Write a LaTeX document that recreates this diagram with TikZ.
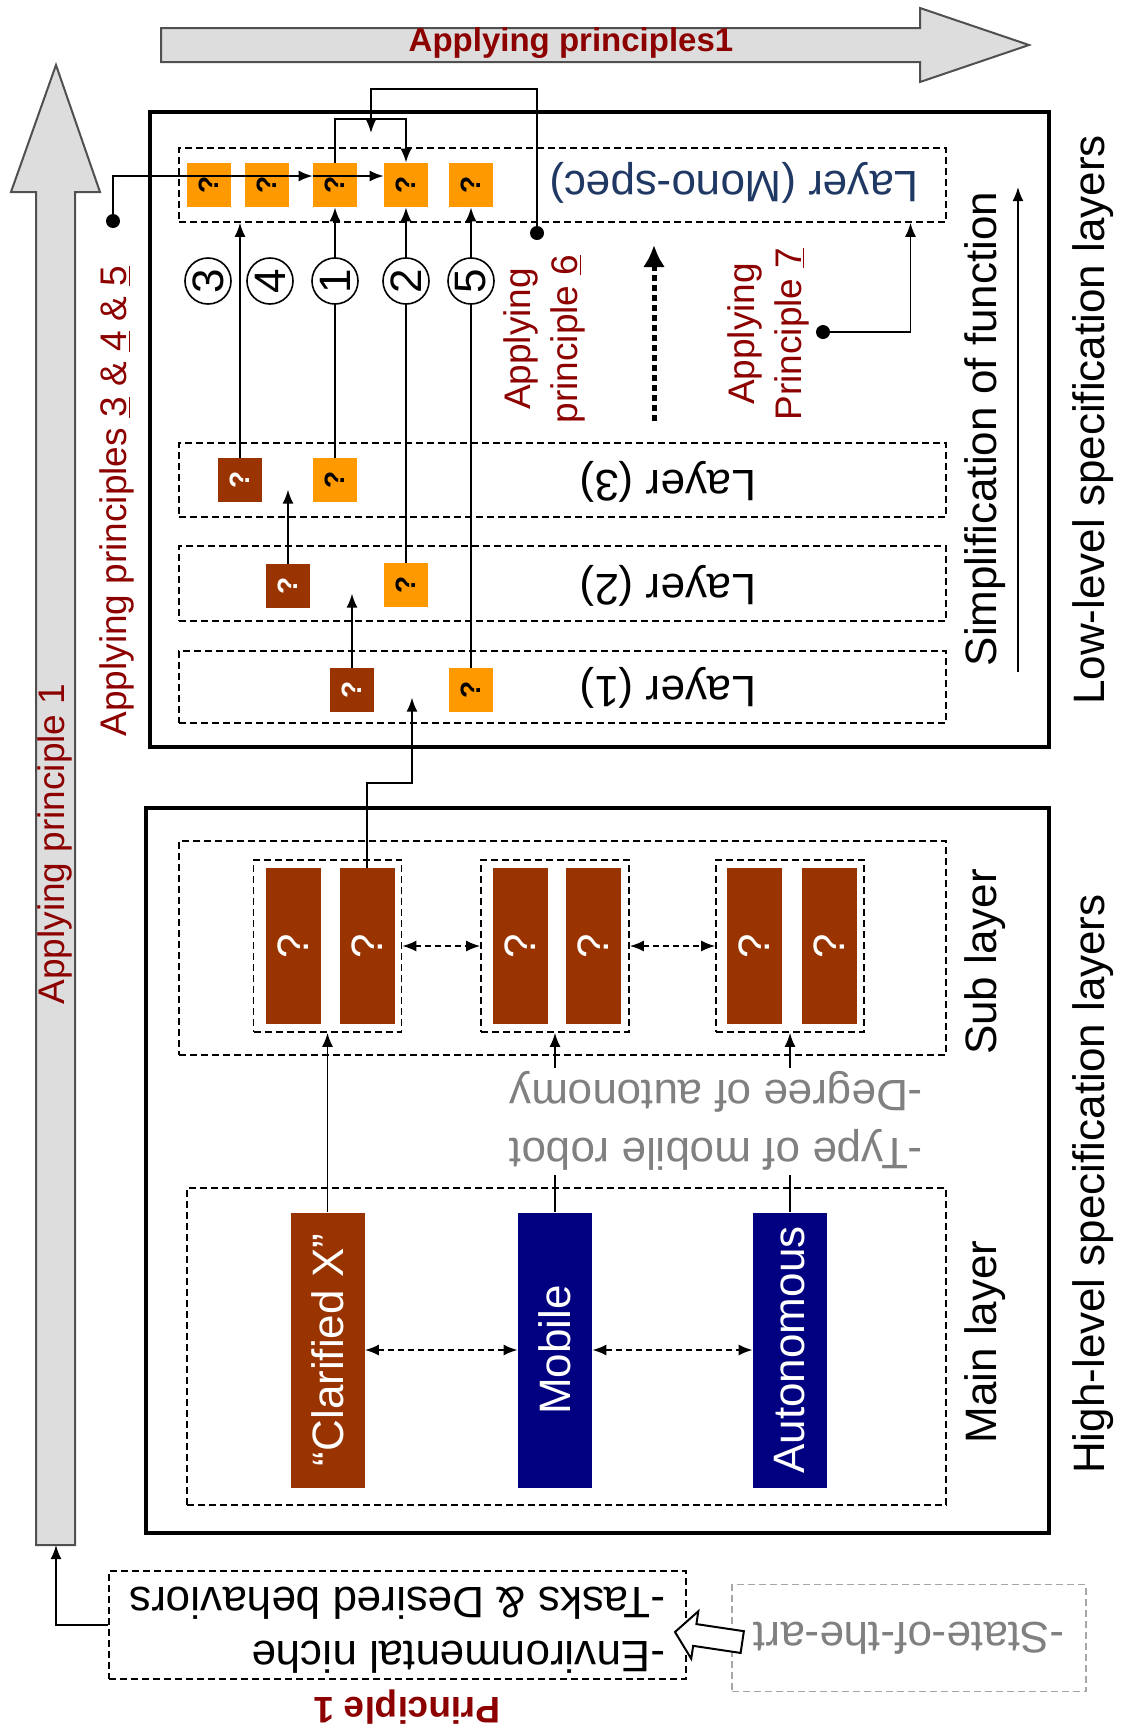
\documentclass[tikz,border=0pt]{standalone}
\usepackage{fontspec}
\setmainfont{Liberation Sans}
\usepackage{graphicx}
\usepackage{tikz}
\usetikzlibrary{arrows.meta}
\definecolor{mybrown}{RGB}{153,51,0}
\definecolor{myorange}{RGB}{255,153,0}
\definecolor{mynavy}{RGB}{0,0,128}
\definecolor{myred}{RGB}{140,0,0}
\definecolor{myblue}{RGB}{31,56,100}
\definecolor{mygray}{RGB}{128,128,128}
\definecolor{arrfill}{RGB}{221,221,221}
\definecolor{arrline}{RGB}{80,80,80}
\newcommand{\fsbig}{\fontsize{22}{29}\selectfont}
\newcommand{\fsred}{\fontsize{18.5}{23.5}\selectfont}
\newcommand{\qm}{\rotatebox{90}{?}}
\tikzset{
  specbox/.style={draw, line width=2pt, inner sep=0pt},
  dashbox/.style={draw, dash pattern=on 3.5pt off 2pt, line width=0.8pt, inner sep=0pt},
  qorange/.style={fill=myorange, minimum size=22pt, inner sep=0pt,
    font=\fontsize{14}{14}\selectfont\bfseries},
  qbrown/.style={qorange, fill=mybrown, text=white},
  bar/.style={fill=mybrown, text=white, minimum width=27.5pt, minimum height=78pt,
    inner sep=0pt, font=\fsbig},
  mainbar/.style={fill=#1, text=white, minimum width=37pt, minimum height=137.5pt,
    inner sep=0pt, font=\fsbig},
  num/.style={circle, draw, fill=white, minimum size=23pt, inner sep=0pt,
    line width=0.8pt, font=\fsbig, rotate=90},
  dot/.style={circle, fill, minimum size=7pt, inner sep=0pt},
  conn/.style={line width=0.9pt},
  arr/.style={conn, -{Latex[length=7pt,width=5.5pt]}},
  dblarr/.style={conn, dash pattern=on 3pt off 2pt,
    {Latex[length=7pt,width=5.5pt]}-{Latex[length=7pt,width=5.5pt]}},
  redlabel/.style={text=myred, font=\fsred, rotate=90, align=center},
  biglabel/.style={font=\fsbig, rotate=90},
  flipped/.style={font=\fsbig, rotate=180},
  bigarrow/.style={fill=arrfill, draw=arrline, line width=1pt}
}
\begin{document}
\begin{tikzpicture}[x=0.5pt, y=-0.5pt]
  \useasboundingbox (0,0) rectangle (1120,1736);

  % Big arrows
  \draw[bigarrow] (36,1545) -- (36,192) -- (11,192) -- (56,65) -- (100,192) -- (75,192) -- (75,1545) -- cycle;
  \coordinate (p1tail) at (56,1545);
  \node[redlabel] (lp1) at (55,844) {Applying principle 1};
  \draw[bigarrow] (161,28) -- (920,28) -- (920,8) -- (1029,45) -- (920,82) -- (920,62) -- (161,62) -- cycle;
  \node[text=myred, font=\fontsize{16.5}{18}\selectfont\bfseries] (lp1top) at (571,43) {Applying principles1};

  % Low-level layers
  \node[specbox, minimum width=449.5pt, minimum height=317.5pt] (lowbox) at (599.5,429.5) {};
  \node[dashbox, minimum width=383.5pt, minimum height=37pt] (monobox) at (562.5,185) {};
  \node[dashbox, minimum width=383.5pt, minimum height=37pt] (lay3) at (562.5,480) {};
  \node[dashbox, minimum width=383.5pt, minimum height=37.5pt] (lay2) at (562.5,583.5) {};
  \node[dashbox, minimum width=383.5pt, minimum height=36pt] (lay1) at (562.5,687) {};
  \node[flipped, text=myblue] (tmono) at (734,183) {Layer (Mono-spec)};
  \node[flipped] (t3) at (668,482) {Layer (3)};
  \node[flipped] (t2) at (668,586) {Layer (2)};
  \node[flipped] (t1) at (668,688) {Layer (1)};

  % Functions
  \node[qorange] (m1) at (209,185) {\qm};
  \node[qorange] (m2) at (267,185) {\qm};
  \node[qorange] (m3) at (335,185) {\qm};
  \node[qorange] (m4) at (406,185) {\qm};
  \node[qorange] (m5) at (471,185) {\qm};
  \node[qbrown] (b3) at (240,480) {\qm};
  \node[qorange] (o3) at (335,480) {\qm};
  \node[qbrown] (b2) at (288,586) {\qm};
  \node[qorange] (o2) at (406,585) {\qm};
  \node[qbrown] (b1) at (352,690) {\qm};
  \node[qorange] (o1) at (471,690) {\qm};

  % Connections between layers
  \draw[arr] (b3.north) -- (b3.north |- monobox.south);
  \draw[arr] (o3.north) -- (m3.south);
  \draw[arr] (o2.north) -- (m4.south);
  \draw[arr] (o1.north) -- (m5.south);
  \draw[arr] (b2.north) -- ++(0,-74);
  \draw[arr] (b1.north) -- ++(0,-74);

  \node[num] (c3) at (208,281) {3};
  \node[num] (c4) at (270,281) {4};
  \node[num] (c1) at (335,281) {1};
  \node[num] (c2) at (406,281) {2};
  \node[num] (c5) at (471,281) {5};

  % Principles 3-7
  \node[dot] (d345) at (113,221) {};
  \draw[arr] (d345) |- ([yshift=4.5pt]m3.west);
  \draw[arr] ([yshift=4.5pt]m3.west) -- ([yshift=4.5pt]m4.west);
  \draw[arr] (m3.north) -- ++(0,-44) -| (m4.north);
  \node[dot] (d6) at (537,233) {};
  \coordinate (p6end) at (371,133);
  \draw[arr] (d6) -- ++(0,-144) -| (p6end);
  \node[dot] (d7) at (823,332) {};
  \draw[arr] (d7) -| ([xshift=174pt]monobox.south);
  \node[redlabel] (l345) at (117,501) {Applying principles \underline{3} \& \underline{4} \& \underline{5}};
  \node[redlabel] (l6) at (544,339) {Applying\\principle \underline{6}};
  \node[redlabel] (l7) at (768,334) {Applying\\Principle \underline{7}};
  \coordinate (dotA) at (654,421);
  \coordinate (dotB) at (654,245);
  \draw[line width=2.5pt, dash pattern=on 3pt off 2pt, -{Latex[length=11pt,width=11pt]}] (dotA) -- (dotB);

  \node[biglabel] (simp) at (985,429) {Simplification of function};
  \coordinate (sA) at (1018,672);
  \coordinate (sB) at (1018,187);
  \draw[arr] (sA) -- (sB);
  \node[biglabel] (lowlbl) at (1093,420) {Low-level specification layers};

  % High-level layers
  \node[specbox, minimum width=451.5pt, minimum height=362.5pt] (highbox) at (597.5,1170.5) {};
  \node[dashbox, minimum width=383.5pt, minimum height=107pt] (subbox) at (562.5,948) {};
  \node[dashbox, minimum width=379.5pt, minimum height=158.5pt] (mainbox) at (566.5,1346.5) {};
  \node[dashbox, minimum width=74pt, minimum height=86pt] (g1) at (327.5,946) {};
  \node[dashbox, minimum width=74pt, minimum height=86pt] (g2) at (555,946) {};
  \node[dashbox, minimum width=74pt, minimum height=86pt] (g3) at (790,946) {};
  \node[bar] (s11) at (293.5,946) {\qm};
  \node[bar] (s12) at (367,946) {\qm};
  \node[bar] (s21) at (520,946) {\qm};
  \node[bar] (s22) at (593.5,946) {\qm};
  \node[bar] (s31) at (754.5,946) {\qm};
  \node[bar] (s32) at (829,946) {\qm};
  \draw[dblarr] (g1.east) -- (g2.west);
  \draw[dblarr] (g2.east) -- (g3.west);
  \draw[arr] (s12.north) -- ++(0,-85) -- ++(45,0) -- ++(0,-85);

  \node[mainbar=mybrown] (clar) at (327.5,1350) {\rotatebox{90}{“Clarified X”}};
  \node[mainbar=mynavy] (mob) at (555,1350) {\rotatebox{90}{Mobile}};
  \node[mainbar=mynavy] (auto) at (790,1350) {\rotatebox{90}{Autonomous}};
  \draw[dblarr] (clar.east) -- (mob.west);
  \draw[dblarr] (mob.east) -- (auto.west);
  \draw[arr] (clar.north) -- (g1.south);
  \draw[arr] (mob.north) -- (g2.south);
  \draw[arr] (auto.north) -- (g3.south);
  \node[flipped, text=mygray, fill=white, align=left, inner sep=2pt] (crit) at (716,1121) {-Type of mobile robot\\-Degree of autonomy};

  \node[biglabel] (sublbl) at (985,962) {Sub layer};
  \node[biglabel] (mainlbl) at (985,1342) {Main layer};
  \node[biglabel] (highlbl) at (1093,1184) {High-level specification layers};

  % Principle 1
  \node[dashbox, minimum width=288.5pt, minimum height=53pt, font=\fontsize{22}{27}\selectfont] (niche) at (397.5,1625)
    {\rotatebox{180}{\begin{tabular}{@{}l@{}}-Environmental niche\\-Tasks \& Desired behaviors\end{tabular}}};
  \draw[arr] (niche.west) -| (p1tail);
  \node[dashbox, draw=mygray!70, line width=0.6pt, minimum width=177pt, minimum height=53.5pt, text=mygray, font=\fsbig] (soa) at (909,1638)
    {\rotatebox{180}{-State-of-the-art}};
  \begin{scope}[shift={(675,1632)}, rotate=-8.5]
    \draw[fill=white, line width=1pt] (0,0) -- (20,-24) -- (20,-11) -- (68,-11) -- (68,11) -- (20,11) -- (20,24) -- cycle;
  \end{scope}
  \node[text=myred, font=\fontsize{18.5}{20}\selectfont\bfseries, rotate=180] (lp1b) at (407,1707) {Principle 1};
\end{tikzpicture}
\end{document}
